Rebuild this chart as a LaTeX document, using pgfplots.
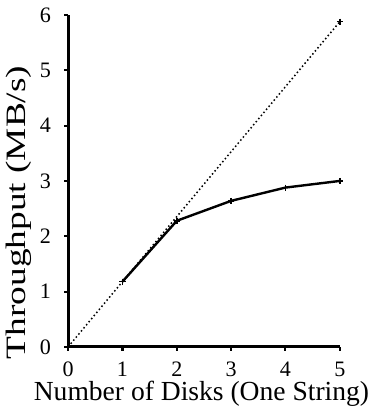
\documentclass[border=0pt]{standalone}
\usepackage{pgfplots}
\pgfplotsset{compat=1.18}
\usepackage{fontspec}
\setmainfont{Liberation Serif}
\begin{document}
\begin{tikzpicture}
\begin{axis}[
  name=ax,
  scale only axis, width=271pt, height=331pt,
  xmin=0, xmax=5, ymin=0, ymax=6,
  axis lines=left, axis line style={line width=3pt, -},
  xtick={0,1,2,3,4,5}, ytick={0,1,2,3,4,5,6},
  tick align=outside, major tick length=4pt,
  tick style={line width=2pt, black},
  /pgf/number format/assume math mode=true,
  ticklabel style={font=\fontsize{22}{24}\selectfont, inner sep=0pt},
  xticklabel style={yshift=-11pt},
  yticklabel style={xshift=-13pt},
  xlabel={Number of Disks (One String)},
  ylabel={Throughput (MB/s)},
  xlabel style={font=\fontsize{27.5}{30}\selectfont, inner sep=0pt,
    at={(axis description cs:0.4908,-0.104)}, anchor=north},
  ylabel style={font=\fontsize{28}{30}\selectfont, inner sep=0pt,
    at={(axis description cs:-0.1328,0.405)}, anchor=south, xscale=1.33},
  clip=false,
]
\addplot[black, line width=1.5pt, dash pattern=on 1.5pt off 2.5pt, mark=+, mark size=3pt, mark options={solid, line width=1.5pt}] coordinates {(0,0) (1,1.18) (5,5.88)};
\addplot[black, line width=2.4pt, mark=+, mark size=3pt, mark options={line width=1.5pt}] coordinates {(1,1.18) (2,2.28) (3,2.64) (4,2.88) (5,3.0)};
\end{axis}
\pgfresetboundingbox
\path ([xshift=-68pt,yshift=-63pt]ax.south west) rectangle ([xshift=38pt,yshift=15pt]ax.north east);
\end{tikzpicture}
\end{document}
